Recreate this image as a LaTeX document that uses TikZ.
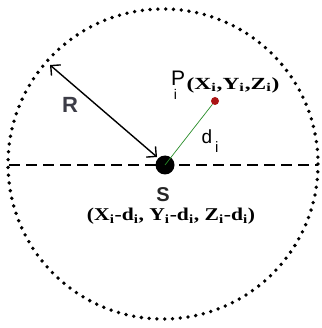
\documentclass[tikz,border=0pt]{standalone}
\usepackage{fontspec}
\setmainfont{Liberation Serif}
\setsansfont{Liberation Sans}
\usetikzlibrary{arrows.meta}
\definecolor{darkred}{RGB}{170,20,20}
\definecolor{leafgreen}{RGB}{40,140,40}
\definecolor{rgrey}{RGB}{60,60,70}
\begin{document}
\begin{tikzpicture}[x=1pt,y=-1pt]
\tikzstyle{every node}=[inner sep=0pt];
\tikzstyle{barbs}=[{Straight Barb[angle=90:10pt]}-{Straight Barb[angle=90:10pt]}];
\useasboundingbox (0,0) rectangle (321,328);

\draw (165,165) node[circle, fill=black, minimum size=19pt] (s) {};
\draw (215,101) node[circle, fill=darkred, minimum size=8pt] (p) {};
\draw (50,65) coordinate (rtop);
\draw (157,157) coordinate (rbot);
\draw (9,165) coordinate (west);
\draw (318,165) coordinate (east);

% sphere and centre line
\draw[line width=3.8pt, line cap=round, dash pattern=on 0pt off 7.8pt] (163,164) circle (155);
\draw[line width=2.8pt, dash pattern=on 11pt off 6pt] (west) -- (east);

\draw[line width=1.4pt, barbs] (rtop) -- (rbot);
\draw[leafgreen, line width=0.7pt] (s.center) -- (p);

\draw (70,105) node[font=\sffamily\bfseries\fontsize{22}{22}\selectfont, text=rgrey] (rlab) {R};
\draw (178,85) node[font=\sffamily\fontsize{21}{21}\selectfont] (plab) {P\llap{\raisebox{-14pt}{\fontsize{14}{14}\selectfont i}\hspace{8pt}}};
\draw (233,85) node[font=\bfseries\fontsize{17}{17}\selectfont] (pcoord) {\scalebox{1.38}[1]{(X\textsubscript{i},Y\textsubscript{i},Z\textsubscript{i})}};
\draw (210,141) node[font=\sffamily\fontsize{19}{19}\selectfont] (dlab) {d\hspace{3pt}\raisebox{-9pt}{\fontsize{15}{15}\selectfont i}};
\draw (163,195) node[font=\sffamily\bfseries\fontsize{20}{20}\selectfont, text=black!85] (slab) {S};
\draw (171,216) node[font=\bfseries\fontsize{18}{18}\selectfont] (scoord) {\scalebox{1.2}[1]{(X\textsubscript{i}-d\textsubscript{i}, Y\textsubscript{i}-d\textsubscript{i}, Z\textsubscript{i}-d\textsubscript{i})}};
\end{tikzpicture}
\end{document}
